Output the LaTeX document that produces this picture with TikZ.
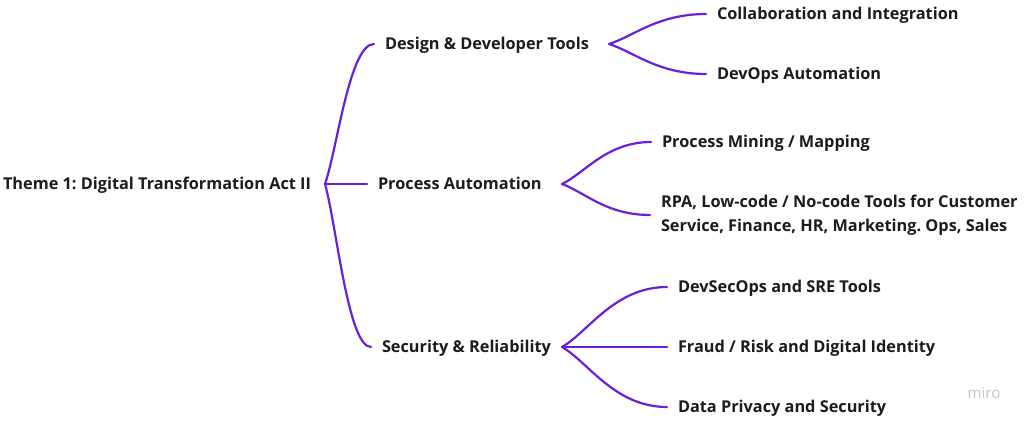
\documentclass[tikz,border=0pt]{standalone}
\usepackage{fontspec}
\setmainfont{Open Sans}
\usetikzlibrary{positioning,calc}
\definecolor{mapline}{HTML}{6A1FE0}
\definecolor{maptext}{HTML}{1C1C1C}
\definecolor{watermark}{HTML}{C4C4CC}
\frenchspacing

\begin{document}
\begin{tikzpicture}[x=1pt, y=-1pt,
    idea/.style={anchor=west, inner sep=0pt, outer xsep=11pt, text=maptext,
        font=\fontsize{16.3}{24}\selectfont\bfseries},
    capline/.style={text height=11.6pt, text depth=0pt},
    link/.style={draw=mapline, line width=2.2pt, line cap=round},
    fork/.style={to path={.. controls ($(\tikztostart)!0.25!(\tikztotarget)$)
        and ($(\tikztotarget)!0.5!(\tikztotarget -| \tikztostart)$) .. (\tikztotarget)}}]

\fill[white] (0,0) rectangle (1024,420);
\useasboundingbox (0,0) rectangle (1024,420);

% central theme
\node[idea, capline, outer xsep=0pt] (theme) at (3,184) {Theme 1: Digital Transformation Act II};
\coordinate (themefork) at (325,184);

% main branches
\node[idea, capline] (design) at (374,44) {Design \& Developer Tools};
\node[idea, capline] (process) at (367,184) {Process Automation};
\node[idea, capline] (security) at (371,347) {Security \& Reliability};

\coordinate (designfork) at (609,44);
\coordinate (processfork) at (562,184);
\coordinate (securityfork) at (562,347);

% leaves
\node[idea, capline] (collab) at (706,14) {Collaboration and Integration};
\node[idea, capline] (devops) at (706,74) {DevOps Automation};
\node[idea, capline] (mining) at (651,142) {Process Mining / Mapping};
\node[idea, align=left] (rpa) at (650,215) {RPA, Low-code / No-code Tools for Customer\\Service, Finance, HR, Marketing. Ops, Sales};
\node[idea, capline] (devsecops) at (667,287) {DevSecOps and SRE Tools};
\node[idea, capline] (fraud) at (667,347) {Fraud / Risk and Digital Identity};
\node[idea, capline] (privacy) at (667,407) {Data Privacy and Security};

% connectors
\foreach \branch in {design, process, security}
    \draw[link] (themefork) to[fork] (\branch.west);
\foreach \leaf in {collab, devops}
    \draw[link] (designfork) to[fork] (\leaf.west);
\foreach \leaf in {mining, rpa}
    \draw[link] (processfork) to[fork] (\leaf.west);
\foreach \leaf in {devsecops, fraud, privacy}
    \draw[link] (securityfork) to[fork] (\leaf.west);

\node[text=watermark, font=\fontsize{15}{15}\selectfont] (miro) at (984,393) {miro};

\end{tikzpicture}
\end{document}
